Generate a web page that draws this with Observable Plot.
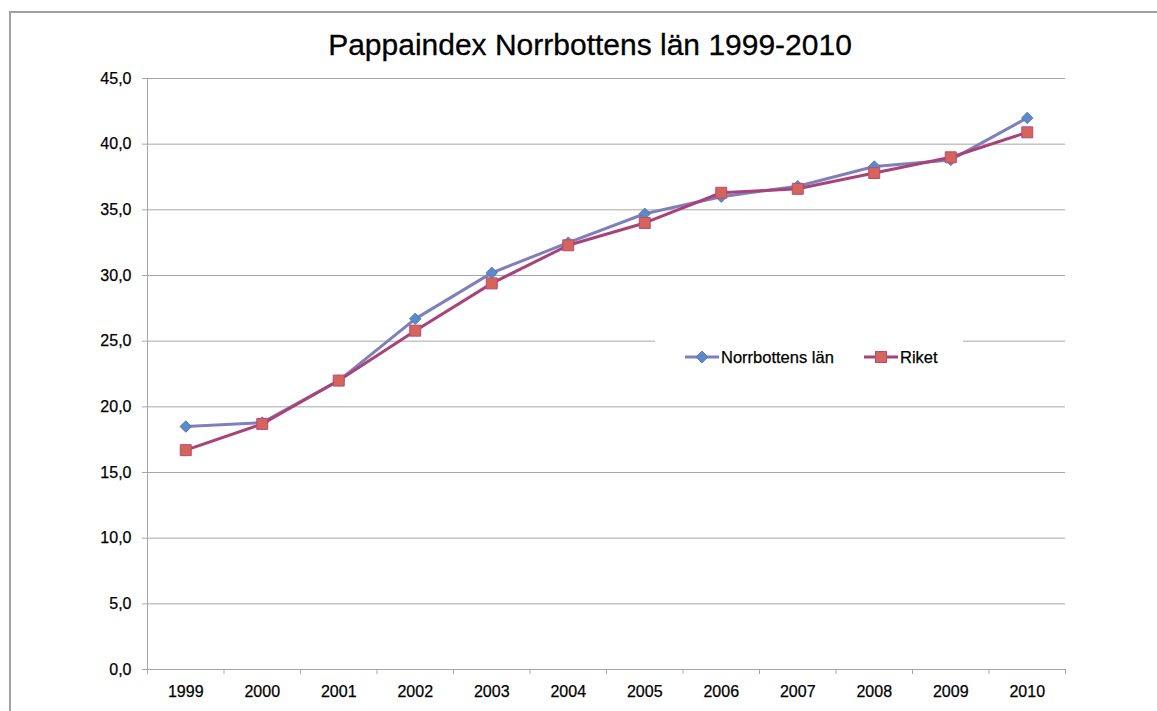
<!DOCTYPE html>
<html>
<head>
<meta charset="utf-8">
<script src="https://cdn.jsdelivr.net/npm/d3@7"></script>
<script src="https://cdn.jsdelivr.net/npm/@observablehq/plot@0.6"></script>
<style>
  html, body { margin: 0; padding: 0; background: #fff; }
  body { width: 1157px; height: 711px; overflow: hidden; position: relative; font-family: "Liberation Sans", Arial, Helvetica, sans-serif; }
  #frame { position: absolute; left: 9px; top: 11px; width: 1200px; height: 760px; border: 2px solid #a0a0a0; box-sizing: border-box; }
  #title { position: absolute; left: 0; top: 28px; width: 1180px; text-align: center; font-size: 30px; line-height: 34px; color: #000; -webkit-text-stroke: 0.3px #000; }
  #chart { position: absolute; left: 0; top: 60px; }
  #legend { position: absolute; left: 655px; top: 331px; width: 308px; height: 52px; background: #fff; font-size: 16.5px; color: #000; -webkit-text-stroke: 0.25px #000; }
  .item { position: absolute; top: 17px; display: flex; align-items: center; height: 18px; }
  .item svg { display: block; }
  #chart svg text { stroke: #000; stroke-width: 0.25px; }
</style>
</head>
<body>
<div id="frame"></div>
<div id="title">Pappaindex Norrbottens län 1999-2010</div>
<div id="chart"></div>
<div id="legend"></div>
<script>
const years = [1999, 2000, 2001, 2002, 2003, 2004, 2005, 2006, 2007, 2008, 2009, 2010];
const norrbotten = [18.5, 18.8, 22.0, 26.7, 30.2, 32.5, 34.7, 36.0, 36.8, 38.3, 38.8, 42.0];
const riket = [16.7, 18.7, 22.0, 25.8, 29.4, 32.3, 34.0, 36.3, 36.6, 37.8, 39.0, 40.9];
const seriesNames = ["Norrbottens län", "Riket"];
const yTicks = [0, 5, 10, 15, 20, 25, 30, 35, 40, 45];

const lineColors = ["#7f80bb", "#a8437a"];
const markerFill = ["#5a8ac8", "#d5645b"];
const markerStroke = ["#4a72a8", "#b84a78"];

const diamond = {
  draw(context, size) {
    const h = Math.sqrt(size / 2);
    context.moveTo(0, -h); context.lineTo(h, 0); context.lineTo(0, h); context.lineTo(-h, 0); context.closePath();
  }
};

const nData = years.map((y, i) => ({year: y, value: norrbotten[i]}));
const rData = years.map((y, i) => ({year: y, value: riket[i]}));
const boundaries = [years[0] - 0.5, ...years.map(y => y + 0.5)];
const fmt = d => d.toFixed(1).replace(".", ",");

const chart = Plot.plot({
  width: 1157,
  height: 651,
  marginLeft: 147,
  marginRight: 92,
  marginTop: 18,
  marginBottom: 42,
  style: {fontFamily: '"Liberation Sans", Arial, Helvetica, sans-serif', fontSize: "16px", color: "#000", background: "transparent"},
  x: {domain: [years[0] - 0.5, years[years.length - 1] + 0.5]},
  y: {domain: [0, 45]},
  marks: [
    Plot.gridY(yTicks.filter(d => d > 0), {stroke: "#a6a6a6", strokeOpacity: 1, strokeWidth: 1}),
    Plot.ruleY([0], {stroke: "#a6a6a6", strokeWidth: 1}),
    Plot.ruleX([boundaries[0]], {stroke: "#a6a6a6", strokeWidth: 1}),
    Plot.axisY({ticks: yTicks, tickFormat: fmt, tickSize: 5, tickPadding: 11, stroke: "#a6a6a6", label: null, fill: "#000"}),
    Plot.axisX({ticks: boundaries, tickFormat: () => "", tickSize: 5, stroke: "#a6a6a6", label: null}),
    Plot.axisX({ticks: years, tickFormat: d => String(d), tickSize: 0, tickPadding: 16, label: null, fill: "#000"}),
    Plot.line(nData, {x: "year", y: "value", stroke: lineColors[0], strokeWidth: 3}),
    Plot.dot(nData, {x: "year", y: "value", symbol: diamond, r: 4.6, fill: markerFill[0], stroke: markerStroke[0], strokeWidth: 0.8}),
    Plot.line(rData, {x: "year", y: "value", stroke: lineColors[1], strokeWidth: 3}),
    Plot.dot(rData, {x: "year", y: "value", symbol: "square", r: 6.2, fill: markerFill[1], stroke: markerStroke[1], strokeWidth: 1})
  ]
});
document.getElementById("chart").appendChild(chart);

// Legend
const legend = document.getElementById("legend");
const lefts = [30, 209];
seriesNames.forEach((name, i) => {
  const item = document.createElement("div");
  item.className = "item";
  item.style.left = lefts[i] + "px";
  const marker = i === 0
    ? `<polygon points="17,3 23,9 17,15 11,9" fill="${markerFill[0]}" stroke="${markerStroke[0]}" stroke-width="0.8"/>`
    : `<rect x="11.5" y="3.5" width="11" height="11" fill="${markerFill[1]}" stroke="${markerStroke[1]}" stroke-width="1"/>`;
  item.innerHTML = `<svg width="35" height="18"><line x1="0" y1="9" x2="34" y2="9" stroke="${lineColors[i]}" stroke-width="3"/>${marker}</svg><span style="margin-left:1px">${name}</span>`;
  legend.appendChild(item);
});
</script>
</body>
</html>
